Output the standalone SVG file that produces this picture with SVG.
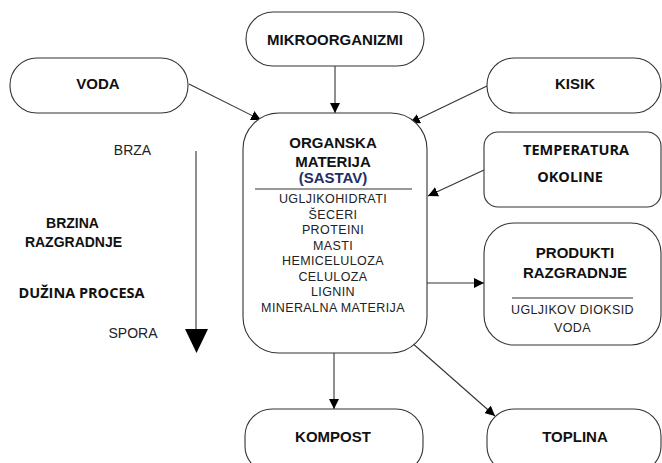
<svg xmlns="http://www.w3.org/2000/svg" width="662" height="463" viewBox="0 0 662 463">
<style>
.box{fill:#fff;stroke:#333;stroke-width:1.1}
.t{font-family:"Liberation Sans",Arial,sans-serif;font-weight:bold;font-size:15px;fill:#111;text-anchor:middle}
.r{font-family:"Liberation Sans",Arial,sans-serif;font-size:12.5px;fill:#222;text-anchor:middle;letter-spacing:0.4px}
.c{font-family:"Open Sans","Liberation Sans",sans-serif;font-weight:bold;font-size:14.5px;fill:#111;text-anchor:middle}
.ln{stroke:#333;stroke-width:1.1;fill:none}
.con{stroke:#333;stroke-width:1.1;fill:none;marker-end:url(#ah)}
</style>
<defs>
<marker id="ah" viewBox="0 0 10 10" refX="10" refY="5" markerWidth="10" markerHeight="10" markerUnits="userSpaceOnUse" orient="auto">
<path d="M0,0 L10,5 L0,10 Z" fill="#000"/>
</marker>
</defs>
<rect width="662" height="463" fill="#fff"/>
<g id="connectors">
<line class="con" x1="335" y1="66" x2="335" y2="113"/>
<line class="con" x1="189" y1="84" x2="261" y2="120"/>
<line class="con" x1="487" y1="86" x2="410" y2="123"/>
<line class="con" x1="484" y1="170" x2="428" y2="196"/>
<line class="con" x1="427" y1="283" x2="484" y2="283"/>
<line class="con" x1="334" y1="353" x2="334" y2="409"/>
<line class="con" x1="411" y1="342" x2="495" y2="416"/>
</g>
<g id="mikroorganizmi">
<rect class="box" x="246" y="12" width="178" height="54" rx="27"/>
<text class="t" x="335" y="44.5">MIKROORGANIZMI</text>
</g>
<g id="voda">
<rect class="box" x="10" y="58" width="178" height="55" rx="27"/>
<text class="t" x="98" y="88.5">VODA</text>
</g>
<g id="kisik">
<rect class="box" x="487" y="58" width="174" height="55" rx="27"/>
<text class="t" x="575" y="88.5">KISIK</text>
</g>
<g id="temperatura">
<rect class="box" x="484" y="132" width="177" height="75" rx="14"/>
<text class="c" x="576" y="155">TEMPERATURA</text>
<text class="c" x="570" y="182">OKOLINE</text>
</g>
<g id="organska">
<rect class="box" x="243" y="113" width="184" height="240" rx="36"/>
<text class="t" x="333" y="148">ORGANSKA</text>
<text class="t" x="333" y="167">MATERIJA</text>
<text class="t" x="333" y="183" style="fill:#1f2e66">(SASTAV)</text>
<line class="ln" x1="255" y1="189" x2="412" y2="189"/>
<text class="r" x="333" y="203">UGLJIKOHIDRATI</text>
<text class="r" x="333" y="218.5">ŠECERI</text>
<text class="r" x="333" y="234">PROTEINI</text>
<text class="r" x="333" y="249.5">MASTI</text>
<text class="r" x="333" y="265">HEMICELULOZA</text>
<text class="r" x="333" y="280.5">CELULOZA</text>
<text class="r" x="333" y="296">LIGNIN</text>
<text class="r" x="333" y="311.5">MINERALNA MATERIJA</text>
</g>
<g id="produkti">
<rect class="box" x="484" y="223" width="177" height="122" rx="30"/>
<text class="t" x="575" y="258">PRODUKTI</text>
<text class="t" x="575" y="278">RAZGRADNJE</text>
<line class="ln" x1="512" y1="298" x2="633" y2="298"/>
<text class="r" x="572.5" y="314">UGLJIKOV DIOKSID</text>
<text class="r" x="572.5" y="332">VODA</text>
</g>
<g id="kompost">
<rect class="box" x="245" y="409" width="178" height="64" rx="27"/>
<text class="t" x="333" y="442">KOMPOST</text>
</g>
<g id="toplina">
<rect class="box" x="487" y="409" width="174" height="64" rx="27"/>
<text class="t" x="575" y="442">TOPLINA</text>
</g>
<g id="brzina">
<text class="r" x="132.5" y="155" style="font-size:14px;letter-spacing:0">BRZA</text>
<text class="r" x="133" y="338" style="font-size:14px;letter-spacing:0">SPORA</text>
<text class="t" x="72.5" y="228" style="font-size:14px">BRZINA</text>
<text class="t" x="73.5" y="247" style="font-size:14px">RAZGRADNJE</text>
<text class="c" x="81.5" y="298">DUŽINA PROCESA</text>
<line class="ln" x1="196" y1="151" x2="196" y2="330"/>
<path d="M185,329 L208,329 L196.5,353 Z" fill="#000"/>
</g>
</svg>
